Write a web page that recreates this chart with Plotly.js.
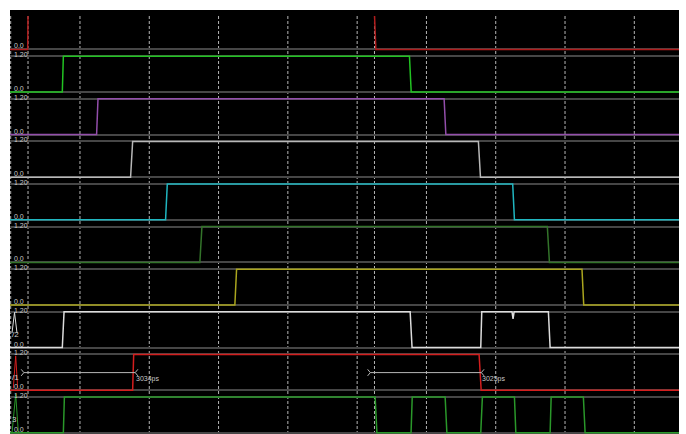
<!DOCTYPE html>
<html>
<head>
<meta charset="utf-8">
<script src="https://cdn.plot.ly/plotly-3.0.1.min.js"></script>
<style>
  html, body { margin: 0; padding: 0; background: #ffffff; overflow: hidden; }
  #plot { width: 686px; height: 434px; }
</style>
</head>
<body>
<div id="plot"></div>
<script>
// Transient waveforms, time in ns, level in V (0 .. 1.2)
const sig0T = [-0.1, 0.49, 0.50, 10.50, 10.54, 19.4];
const sig0V = [0, 0, 1.2, 1.2, 0, 0];
const sig1T = [-0.1, 1.49, 1.52, 11.51, 11.56, 19.4];
const sig1V = [0, 0, 1.2, 1.2, 0, 0];
const sig2T = [-0.1, 2.48, 2.52, 12.51, 12.56, 19.4];
const sig2V = [0, 0, 1.2, 1.2, 0, 0];
const sig3T = [-0.1, 3.46, 3.52, 13.50, 13.56, 19.4];
const sig3V = [0, 0, 1.2, 1.2, 0, 0];
const sig4T = [-0.1, 4.47, 4.52, 14.49, 14.54, 19.4];
const sig4V = [0, 0, 1.2, 1.2, 0, 0];
const sig5T = [-0.1, 5.46, 5.52, 15.49, 15.55, 19.4];
const sig5V = [0, 0, 1.2, 1.2, 0, 0];
const sig6T = [-0.1, 6.47, 6.52, 16.49, 16.54, 19.4];
const sig6V = [0, 0, 1.2, 1.2, 0, 0];
const sig7T = [-0.1, 1.49, 1.54, 11.53, 11.585, 13.568, 13.597, 14.47, 14.50, 14.53, 15.52, 15.57, 19.4];
const sig7V = [0, 0, 1.2, 1.2, 0, 0, 1.2, 1.2, 0.96, 1.2, 1.2, 0, 0];
const sig8T = [-0.1, 3.52, 3.55, 13.52, 13.58, 19.4];
const sig8V = [0, 0, 1.2, 1.2, 0, 0];
const sig9T = [-0.1, 1.52, 1.55, 10.52, 10.57, 11.556, 11.59, 12.54, 12.59, 13.568, 13.615, 14.54, 14.58, 15.57, 15.60, 16.53, 16.58, 19.4];
const sig9V = [0, 0, 1.2, 1.2, 0, 0, 1.2, 1.2, 0, 0, 1.2, 1.2, 0, 0, 1.2, 1.2, 0, 0];

const sigT = [sig0T, sig1T, sig2T, sig3T, sig4T, sig5T, sig6T, sig7T, sig8T, sig9T];
const sigV = [sig0V, sig1V, sig2V, sig3V, sig4V, sig5V, sig6V, sig7V, sig8V, sig9V];
const sigColors = ['#b01c1c', '#22c322', '#934eab', '#b8b8b8', '#20b6c0',
                   '#33742a', '#aaa51e', '#dcdcdc', '#d41e1e', '#2a982a'];

// Level markers shown on every row
const levelValues = [0, 1.2];
const levelLabels = ['0.0', '1.20'];

// Time grid (ns) and cursor positions
const gridTimes = [0, 2, 4, 6, 8, 10, 12, 14, 16, 18];
const cursorTimes = [0.5, 10.5];

// Delay measurements drawn on the second-to-last row
const measureStart = [0.5, 10.5];
const measureEnd = [3.534, 13.525];
const measureRow = 8;
const measureLevel = 0.59;

// Short row tags at the left edge
const tagRows = [7, 8, 9];
const tagTexts = ['/2', '/1', '3'];

// ---- geometry ----
const W = 686, H = 434;
const mL = 10, mR = 7, mT = 10, mB = 0;
const plotH = H - mT - mB;
const plotW = W - mL - mR;
const firstHigh = 13.6, rowPitch = 42.6, swing = 35.8, clipTop = 16;
const pxPerUnit = swing / 1.2;
const gap = (rowPitch - swing) / 2;
const py2paper = py => (H - mB - py) / plotH;
const px2paper = px => (px - mL) / plotW;

const fontFam = 'Liberation Sans, Arial, sans-serif';
const layout = {
  width: W, height: H,
  margin: { l: mL, r: mR, t: mT, b: mB, pad: 0 },
  paper_bgcolor: '#ffffff',
  plot_bgcolor: 'rgba(0,0,0,0)',
  showlegend: false,
  xaxis: {
    range: [-0.02, 19.29], showgrid: false, zeroline: false,
    showticklabels: false, ticks: '', showline: false, fixedrange: true,
    anchor: 'y10'
  },
  shapes: [],
  annotations: []
};

// black canvas behind everything
layout.shapes.push({
  type: 'rect', xref: 'paper', yref: 'paper', x0: 0, x1: 1, y0: 0, y1: 1,
  fillcolor: '#000000', line: { width: 0 }, layer: 'below'
});

const traces = [];
for (let k = 0; k < sigT.length; k++) {
  const hi = firstHigh + k * rowPitch;
  const lo = hi + swing;
  const top = Math.max(clipTop, hi - gap);
  const bot = Math.min(H - mB, lo + gap);
  const yName = k === 0 ? 'yaxis' : 'yaxis' + (k + 1);
  const yRef = k === 0 ? 'y' : 'y' + (k + 1);
  const rng = [-(bot - lo) / pxPerUnit, 1.2 + (hi - top) / pxPerUnit];
  layout[yName] = {
    domain: [py2paper(bot), py2paper(top)],
    range: rng,
    tickmode: 'array', tickvals: levelValues,
    showticklabels: false, ticks: '',
    showgrid: true, gridcolor: '#464646', gridwidth: 2,
    zeroline: true, zerolinecolor: '#464646', zerolinewidth: 2,
    showline: false, fixedrange: true, anchor: 'x'
  };
  traces.push({
    type: 'scatter', mode: 'lines', x: sigT[k], y: sigV[k],
    xaxis: 'x', yaxis: yRef, name: 'v' + k,
    line: { color: sigColors[k], width: 1.5 }, hoverinfo: 'skip'
  });
  levelValues.forEach((v, i) => {
    if (v < rng[0] || v > rng[1]) return;
    layout.annotations.push({
      xref: 'paper', yref: yRef, x: px2paper(11.5), y: v,
      xanchor: 'left', yanchor: 'middle', yshift: i === 0 ? 3.5 : 1.5,
      text: levelLabels[i], showarrow: false,
      font: { family: fontFam, size: 7, color: '#c8c8c8' }
    });
  });
}

// vertical time grid and cursors
const gridTop = py2paper(clipTop);
gridTimes.concat(cursorTimes).forEach(t => {
  layout.shapes.push({
    type: 'line', xref: 'x', yref: 'paper', x0: t, x1: t, y0: 0, y1: gridTop,
    line: { color: '#b4b4b4', width: 1, dash: '3px,2px' }, layer: 'below'
  });
});

// delay measurements
const mRef = 'y' + (measureRow + 1);
const mx = [], my = [];
const armX = 0.078, armY = 0.11;
for (let i = 0; i < measureStart.length; i++) {
  const a = measureStart[i] - 0.12, b = measureEnd[i] + 0.06;
  mx.push(a - armX, a, a - armX, null, a, b, null, b + armX, b, b + armX, null);
  my.push(measureLevel + armY, measureLevel, measureLevel - armY, null,
          measureLevel, measureLevel, null,
          measureLevel + armY, measureLevel, measureLevel - armY, null);
  layout.annotations.push({
    xref: 'x', yref: mRef, x: measureEnd[i] + 0.02, y: 0.365,
    xanchor: 'left', yanchor: 'middle',
    text: Math.round((measureEnd[i] - measureStart[i]) * 1000) + 'ps',
    showarrow: false, font: { family: fontFam, size: 7, color: '#c8c8c8' }
  });
}
traces.push({
  type: 'scatter', mode: 'lines', x: mx, y: my, xaxis: 'x', yaxis: mRef,
  name: 'delay', line: { color: '#b8b8b8', width: 1 }, hoverinfo: 'skip'
});

// row tags with their small level glyphs
const glyphBase = [0.49, 0.06, -0.02];
const glyphApex = [1.18, 1.15, 1.29];
const glyphX = [[12, 14.5, 17], [13.3, 15.7, 17.7], [12, 15.7, 18.4]];
tagRows.forEach((r, i) => {
  const yRef = 'y' + (r + 1);
  const gx = glyphX[i].map(px2paper);
  layout.shapes.push({
    type: 'path', xref: 'paper', yref: yRef,
    path: 'M' + gx[0] + ',' + glyphBase[i] + ' L' + gx[1] + ',' + glyphApex[i] +
          ' L' + gx[2] + ',' + glyphBase[i],
    line: { color: sigColors[r], width: 1 }, layer: 'above'
  });
  layout.annotations.push({
    xref: 'paper', yref: yRef, x: px2paper(10), y: 0.43,
    xanchor: 'left', yanchor: 'middle', text: tagTexts[i], showarrow: false,
    font: { family: fontFam, size: 8, color: '#d0d0d0' }
  });
});

Plotly.newPlot('plot', traces, layout, { displayModeBar: false, staticPlot: true });
</script>
</body>
</html>
